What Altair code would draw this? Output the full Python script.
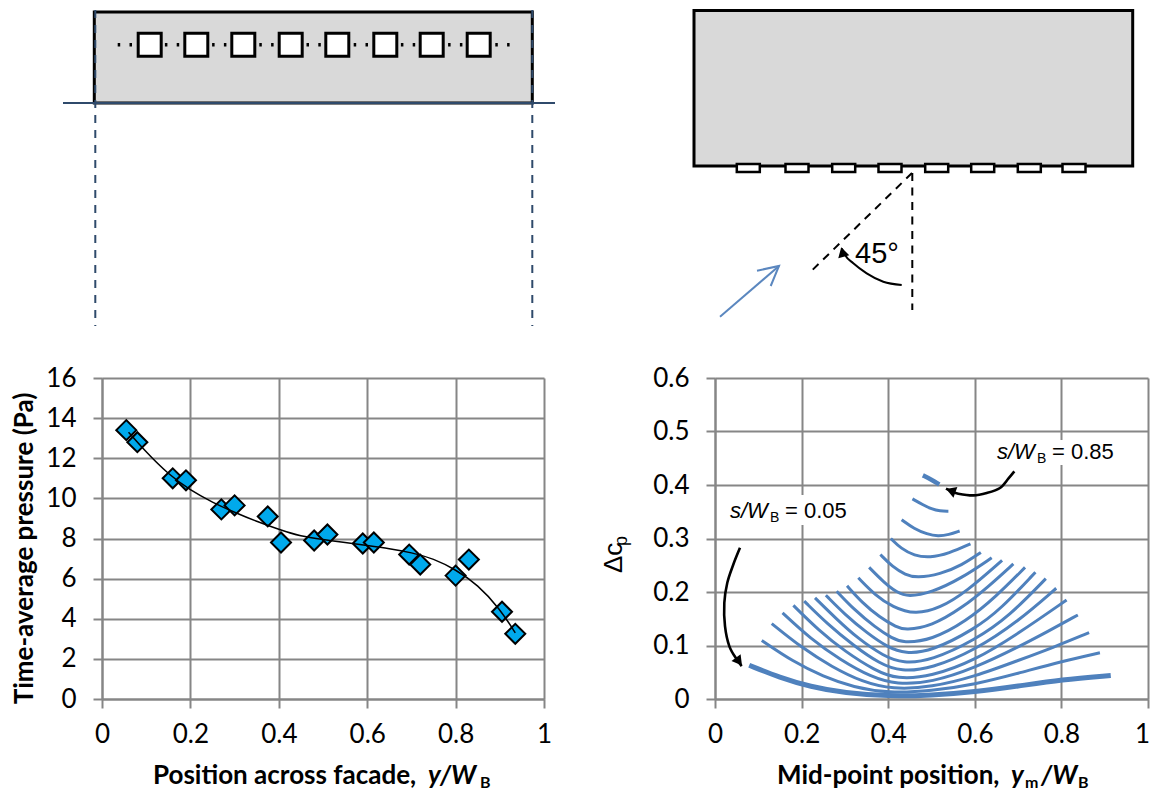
import altair as alt
import pandas as pd

# ---------- left chart ----------
POS_X = [0.055, 0.08, 0.16, 0.19, 0.27, 0.30, 0.375, 0.405, 0.48, 0.51, 0.59, 0.615, 0.695, 0.72, 0.80, 0.83, 0.905, 0.935]
POS_Y = [13.4, 12.8, 11.0, 10.9, 9.45, 9.65, 9.1, 7.8, 7.9, 8.2, 7.75, 7.8, 7.2, 6.7, 6.15, 6.95, 4.35, 3.25]
TREND_X = [0.06, 0.10, 0.15, 0.20, 0.25, 0.30, 0.35, 0.40, 0.45, 0.50, 0.55, 0.60, 0.65, 0.70, 0.75, 0.80, 0.85, 0.90, 0.935]
TREND_Y = [13.3, 12.3, 11.2, 10.4, 9.8, 9.3, 8.85, 8.45, 8.1, 7.95, 7.8, 7.65, 7.5, 7.3, 7.0, 6.45, 5.7, 4.5, 3.3]

# ---------- right chart: one curve per s/WB ----------
CURVES = {
    0.05: ([.079, .15, .22, .30, .40, .50, .60, .70, .80, .914], [.063, .040, .023, .011, .005, .007, .013, .024, .036, .044]),
    0.10: ([.108, .18, .25, .32, .40, .50, .60, .70, .80, .889], [.1095, .070, .042, .022, .011, .015, .027, .048, .070, .0865]),
    0.15: ([.131, .20, .27, .34, .41, .50, .60, .70, .78, .864], [.141, .096, .060, .032, .018, .022, .042, .072, .096, .124]),
    0.20: ([.156, .22, .29, .36, .42, .50, .60, .70, .77, .838], [.161, .113, .073, .041, .027, .031, .058, .097, .127, .157]),
    0.25: ([.181, .24, .30, .37, .42, .50, .60, .70, .812], [.175, .128, .089, .053, .037, .042, .072, .122, .185]),
    0.30: ([.206, .26, .32, .38, .43, .50, .60, .70, .788], [.183, .140, .100, .066, .051, .057, .091, .145, .207]),
    0.35: ([.231, .28, .33, .39, .434, .50, .60, .68, .764], [.189, .150, .113, .080, .0665, .072, .110, .155, .225]),
    0.40: ([.256, .30, .35, .40, .439, .50, .60, .66, .74], [.194, .158, .124, .096, .085, .089, .131, .168, .237]),
    0.45: ([.281, .32, .37, .41, .434, .50, .58, .65, .716], [.2015, .168, .134, .113, .105, .110, .145, .192, .246]),
    0.50: ([.305, .34, .38, .42, .439, .50, .57, .63, .689], [.2115, .180, .153, .134, .129, .136, .170, .209, .2525]),
    0.55: ([.331, .37, .41, .462, .52, .58, .663], [.2265, .194, .172, .1575, .170, .200, .259]),
    0.60: ([.356, .39, .42, .446, .50, .57, .639], [.246, .218, .199, .191, .199, .226, .264]),
    0.65: ([.382, .41, .44, .466, .52, .57, .614], [.27, .247, .232, .2265, .233, .250, .274]),
    0.70: ([.406, .43, .46, .496, .54, .59], [.30, .281, .268, .264, .272, .29]),
    0.75: ([.431, .46, .49, .515, .54, .565], [.335, .318, .308, .304, .307, .314]),
    0.80: ([.456, .48, .50, .52, .539], [.374, .363, .355, .351, .351]),
    0.85: ([.48, .50, .518], [.418, .41, .401]),
}
THICK = {0.05: 5.0, 0.85: 4.5}
ARROW1_X = [.0577, .0423, .0284, .0215, .0231, .033, .0501, .0617]
ARROW1_Y = [.2825, .2513, .2172, .1798, .1362, .0989, .0741, .0616]
ARROW2_X = [.6913, .6774, .6582, .6275, .5965, .5619, .5466, .5335]
ARROW2_Y = [.4254, .4118, .3944, .3851, .3806, .3838, .3881, .3931]

# ---------- diagrams (in the sketch's own length units) ----------
SQUARES_X = [149.7, 196.3, 243.3, 290.7, 337.3, 385.3, 431.7, 478.7]
TAPS_X = [748.3, 797, 843.7, 890, 936.7, 982.7, 1029.3, 1074]
ARC_X = [901.7, 883.3, 866.7, 853.3, 845, 841.7]
ARC_Y = [285, 281.7, 273.3, 263.3, 255, 248.3]
WIND_X = [[720, 779], [757, 779, 770.7]]
WIND_Y = [[316.7, 266], [270.7, 266, 286]]

GRID = "#868686"
BLUE = "#4f81bd"
NAVY = "#2f4a6b"
GREY = "#d9d9d9"
LAB = "Lato"
ARIAL = "Liberation Sans"

W1, W2, H, TOP_H = 442, 433, 321, 330
DOM_Y = [8, 338]


def txt(s, x, y, size=26, font=LAB, weight="normal", style="normal", angle=0, color="black"):
    return alt.Chart(pd.DataFrame({"t": [s]})).mark_text(
        align="left", baseline="alphabetic", font=font, fontSize=size, fontWeight=weight,
        fontStyle=style, angle=angle, color=color
    ).encode(x=alt.value(x), y=alt.value(y), text="t:N")


def sketch(domx):
    sx = alt.Scale(domain=domx, nice=False, zero=False)
    sy = alt.Scale(domain=DOM_Y, nice=False, zero=False, reverse=True)
    X = lambda f="x": alt.X(f"{f}:Q", scale=sx, axis=None)
    Y = lambda f="y": alt.Y(f"{f}:Q", scale=sy, axis=None)

    def rect(x0, x1, y0, y1, fill, sw):
        return alt.Chart(pd.DataFrame({"x": x0, "x2": x1, "y": y0, "y2": y1})).mark_rect(
            fill=fill, stroke="black", strokeWidth=sw
        ).encode(x=X(), x2="x2:Q", y=Y(), y2="y2:Q")

    def seg(x0, y0, x1, y1, color, sw, dash=None, cap="butt"):
        kw = {"strokeDash": dash} if dash else {}
        return alt.Chart(pd.DataFrame({"x": [x0], "y": [y0], "x2": [x1], "y2": [y1]})).mark_rule(
            color=color, strokeWidth=sw, strokeCap=cap, **kw
        ).encode(x=X(), y=Y(), x2="x2:Q", y2="y2:Q")

    return X, Y, rect, seg


# top-left diagram
X, Y, rect, seg = sketch([102, 544])
d1 = alt.layer(
    rect([94.3], [532.3], [12], [103], GREY, 3),
    seg(117.7, 44.7, 510, 44.7, "black", 3.5, [2.5, 9.3]),
    rect([v - 11.5 for v in SQUARES_X], [v + 11.5 for v in SQUARES_X],
         [33.2] * 8, [56.2] * 8, "white", 3),
    seg(63, 103, 555, 103, NAVY, 2),
    seg(95.3, 10, 95.3, 326, NAVY, 2, [8, 7]),
    seg(532.3, 10, 532.3, 326, NAVY, 2, [8, 7]),
).properties(width=W1, height=TOP_H)

# top-right diagram
X, Y, rect, seg = sketch([715, 1148])
arc = alt.Chart(pd.DataFrame({"x": ARC_X, "y": ARC_Y, "o": range(len(ARC_X))})).mark_line(
    color="black", strokeWidth=2, interpolate="monotone"
).encode(x=X(), y=Y(), order="o:O")
arc_head = alt.Chart(pd.DataFrame({"x": [842.5], "y": [252]})).mark_point(
    shape="triangle-up", filled=True, color="black", opacity=1, size=130, angle=345
).encode(x=X(), y=Y())
wind = alt.layer(*[
    alt.Chart(pd.DataFrame({"x": wx, "y": wy, "o": range(len(wx))})).mark_line(
        color="#5b87bf", strokeWidth=2
    ).encode(x=X(), y=Y(), order="o:O")
    for wx, wy in zip(WIND_X, WIND_Y)
])
d2 = alt.layer(
    rect([694], [1132.7], [10.5], [166], GREY, 3),
    rect([v - 11.5 for v in TAPS_X], [v + 11.5 for v in TAPS_X], [164] * 8, [172] * 8, "white", 2.5),
    seg(912.3, 173, 912.3, 310, "black", 2, [8, 6.5]),
    seg(912, 173, 808.3, 274, "black", 2, [8, 6.5]),
    arc, arc_head, wind,
    alt.Chart(pd.DataFrame({"x": [855], "y": [263], "t": ["45°"]})).mark_text(
        align="left", baseline="alphabetic", font=ARIAL, fontSize=29, color="black"
    ).encode(x=X(), y=Y(), text="t:N"),
).properties(width=W2, height=TOP_H)

AXIS = dict(
    grid=True, gridColor=GRID, gridWidth=2, tickColor=GRID, tickWidth=2, tickSize=9,
    domainColor=GRID, domainWidth=2, labelFont=LAB, labelFontSize=26, labelColor="black",
    labelFlush=False, labelOverlap=False,
)

# bottom-left chart
xs = alt.Scale(domain=[0, 1], nice=False)
ys = alt.Scale(domain=[0, 16], nice=False)
xl = alt.X("x:Q", scale=xs, axis=alt.Axis(values=[0, .2, .4, .6, .8, 1], format="~g", title=None, labelPadding=13, **AXIS))
yl = alt.Y("y:Q", scale=ys, axis=alt.Axis(
    values=list(range(0, 17, 2)), title="Time-average pressure (Pa)", titleFont=LAB, titleFontSize=26,
    titleFontWeight="bold", titleColor="black", titlePadding=8, titleY=170, labelPadding=17, **AXIS))
points = alt.Chart(pd.DataFrame({"x": POS_X, "y": POS_Y})).mark_point(
    shape="diamond", filled=True, fill="#00a9ec", stroke="black", strokeWidth=2, opacity=1, size=400
).encode(x=xl, y=yl)
trend = alt.Chart(pd.DataFrame({"x": TREND_X, "y": TREND_Y})).mark_line(
    color="black", strokeWidth=1.5, interpolate="basis"
).encode(x=xl, y=yl)
c1 = alt.layer(
    points, trend,
    txt("Position across facade, ", 51, 406, weight="bold"),
    txt("y/W", 326, 406, weight="bold", style="italic"),
    txt("B", 378, 410, size=16, weight="bold"),
).properties(width=W1, height=H)

# bottom-right chart
xs2 = alt.Scale(domain=[0, 1], nice=False)
ys2 = alt.Scale(domain=[0, 0.6], nice=False)
xr = alt.X("x:Q", scale=xs2, axis=alt.Axis(
    values=[0, .2, .4, .6, .8, 1], format="~g", title=None, labelPadding=13,
    labelOffset=alt.expr("datum.value == 1 ? -6 : 0"), **AXIS))
yr = alt.Y("y:Q", scale=ys2, axis=alt.Axis(values=[0, .1, .2, .3, .4, .5, .6], format="~g", title=None, labelPadding=17, **AXIS))

rows = []
for s, (cx, cy) in CURVES.items():
    rows += [{"s": s, "x": a, "y": b, "o": i, "w": THICK.get(s, 3)} for i, (a, b) in enumerate(zip(cx, cy))]
curves = alt.Chart(pd.DataFrame(rows)).mark_line(color=BLUE, interpolate="basis").encode(
    x=xr, y=yr, detail="s:N", order="o:O",
    strokeWidth=alt.StrokeWidth("w:Q", scale=None, legend=None),
)


def white(x0, x1, y0, y1):
    return alt.Chart(pd.DataFrame({"a": [0]})).mark_rect(color="white").encode(
        x=alt.value(x0), x2=alt.value(x1), y=alt.value(y0), y2=alt.value(y1))


def annotation(x, y, value):
    return [
        txt("s/W", x, y, size=22, font=ARIAL, style="italic"),
        txt("B", x + 40, y + 4, size=14, font=ARIAL),
        txt(value, x + 55, y, size=22, font=ARIAL),
    ]


def black_arrow(ax, ay, hx, hy, angle):
    return [
        alt.Chart(pd.DataFrame({"x": ax, "y": ay, "o": range(len(ax))})).mark_line(
            color="black", strokeWidth=2.6, interpolate="cardinal"
        ).encode(x=xr, y=yr, order="o:O"),
        alt.Chart(pd.DataFrame({"x": [hx], "y": [hy]})).mark_point(
            shape="triangle-up", filled=True, color="black", opacity=1, size=130, angle=angle
        ).encode(x=xr, y=yr),
    ]


c2 = alt.layer(
    white(13, 135, 117, 147),
    white(280, 402, 62, 87),
    curves,
    *black_arrow(ARROW1_X, ARROW1_Y, 0.0555, 0.070, 143),
    *black_arrow(ARROW2_X, ARROW2_Y, 0.5445, 0.3895, 290),
    *annotation(15, 139.7, "= 0.05"),
    *annotation(282, 80.5, "= 0.85"),
    txt("Δc", -93, 195, size=26, font=ARIAL, angle=270),
    txt("p", -88, 168, size=18, font=ARIAL, angle=270),
    txt("Mid-point position, ", 62, 406, weight="bold"),
    txt("y", 296, 406, weight="bold", style="italic"),
    txt("m", 310, 410, size=16, weight="bold"),
    txt("/W", 326, 406, weight="bold", style="italic"),
    txt("B", 363, 410, size=16, weight="bold"),
).properties(width=W2, height=H)

chart = alt.concat(
    d1, d2, c1, c2, columns=2, spacing={"row": 40, "column": 171}, bounds="flush"
).properties(
    padding={"left": 3, "top": 0, "right": 0, "bottom": -1}, background="white"
).configure_view(stroke=None)

chart.save("out.html", embed_options={"renderer": "svg", "actions": False})
